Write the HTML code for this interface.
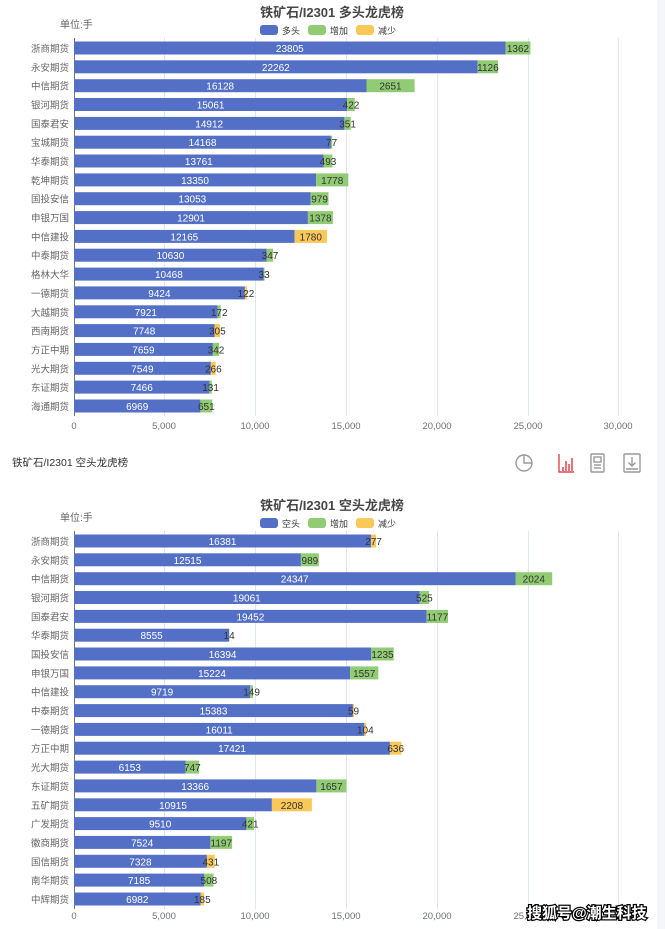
<!DOCTYPE html>
<html><head><meta charset="utf-8"><style>
html,body{margin:0;padding:0;background:#fff;}
svg{display:block;font-family:"Liberation Sans","Noto Sans CJK SC",sans-serif;}
</style></head><body>
<svg width="665" height="929" viewBox="0 0 665 929" xmlns="http://www.w3.org/2000/svg">
<rect x="657" y="0" width="8" height="929" fill="#f4f5f8"/>
<!-- ===== TOP CHART ===== -->
<text x="332" y="17" text-anchor="middle" font-size="13" font-weight="bold" fill="#464646">铁矿石/I2301 多头龙虎榜</text>
<text x="60" y="28" font-size="10" fill="#666">单位:手</text>
<rect x="260" y="25" width="18" height="10" rx="3" fill="#5470c6"/><text x="282" y="34" font-size="9" fill="#333">多头</text>
<rect x="308" y="25" width="18" height="10" rx="3" fill="#91cc75"/><text x="330" y="34" font-size="9" fill="#333">增加</text>
<rect x="356" y="25" width="18" height="10" rx="3" fill="#fac858"/><text x="378" y="34" font-size="9" fill="#333">减少</text>
<g stroke="#e0e6f1" stroke-width="1">
<line x1="164.5" y1="38" x2="164.5" y2="416"/><line x1="255.5" y1="38" x2="255.5" y2="416"/><line x1="346.5" y1="38" x2="346.5" y2="416"/><line x1="437.5" y1="38" x2="437.5" y2="416"/><line x1="528.5" y1="38" x2="528.5" y2="416"/><line x1="618.5" y1="38" x2="618.5" y2="416"/>
</g>
<line x1="74.5" y1="38" x2="74.5" y2="416" stroke="#6e7079"/>
<g font-size="9.5" fill="#6e7079" text-anchor="middle">
<text x="74" y="429">0</text><text x="164" y="429">5,000</text><text x="255" y="429">10,000</text><text x="346" y="429">15,000</text><text x="437" y="429">20,000</text><text x="528" y="429">25,000</text><text x="618" y="429">30,000</text>
</g>
<g font-size="9.5" fill="#666" text-anchor="end">
<text x="69" y="52">浙商期货</text><text x="69" y="70.8">永安期货</text><text x="69" y="89.7">中信期货</text><text x="69" y="108.5">银河期货</text><text x="69" y="127.4">国泰君安</text><text x="69" y="146.2">宝城期货</text><text x="69" y="165">华泰期货</text><text x="69" y="183.9">乾坤期货</text><text x="69" y="202.7">国投安信</text><text x="69" y="221.6">申银万国</text><text x="69" y="240.4">中信建投</text><text x="69" y="259.2">中泰期货</text><text x="69" y="278.1">格林大华</text><text x="69" y="296.9">一德期货</text><text x="69" y="315.8">大越期货</text><text x="69" y="334.6">西南期货</text><text x="69" y="353.4">方正中期</text><text x="69" y="372.3">光大期货</text><text x="69" y="391.1">东证期货</text><text x="69" y="410">海通期货</text>
</g>
<g fill="#5470c6">
<rect x="74" y="41.5" width="431.7" height="13"/><rect x="74" y="60.3" width="403.7" height="13"/><rect x="74" y="79.2" width="292.5" height="13"/><rect x="74" y="98" width="273.1" height="13"/><rect x="74" y="116.9" width="270.4" height="13"/><rect x="74" y="135.7" width="256.9" height="13"/><rect x="74" y="154.5" width="249.5" height="13"/><rect x="74" y="173.4" width="242.1" height="13"/><rect x="74" y="192.2" width="236.7" height="13"/><rect x="74" y="211.1" width="233.9" height="13"/><rect x="74" y="229.9" width="220.6" height="13"/><rect x="74" y="248.7" width="192.8" height="13"/><rect x="74" y="267.6" width="189.8" height="13"/><rect x="74" y="286.4" width="170.9" height="13"/><rect x="74" y="305.3" width="143.6" height="13"/><rect x="74" y="324.1" width="140.5" height="13"/><rect x="74" y="342.9" width="138.9" height="13"/><rect x="74" y="361.8" width="136.9" height="13"/><rect x="74" y="380.6" width="135.4" height="13"/><rect x="74" y="399.5" width="126.4" height="13"/>
</g>
<g>
<rect x="505.7" y="41.5" width="24.7" height="13" fill="#91cc75"/><rect x="477.7" y="60.3" width="20.4" height="13" fill="#91cc75"/><rect x="366.5" y="79.2" width="48.1" height="13" fill="#91cc75"/><rect x="347.1" y="98" width="7.7" height="13" fill="#91cc75"/><rect x="344.4" y="116.9" width="6.4" height="13" fill="#91cc75"/><rect x="330.9" y="135.7" width="1.4" height="13" fill="#91cc75"/><rect x="323.5" y="154.5" width="8.9" height="13" fill="#91cc75"/><rect x="316.1" y="173.4" width="32.2" height="13" fill="#91cc75"/><rect x="310.7" y="192.2" width="17.8" height="13" fill="#91cc75"/><rect x="307.9" y="211.1" width="25" height="13" fill="#91cc75"/><rect x="294.6" y="229.9" width="32.3" height="13" fill="#fac858"/><rect x="266.8" y="248.7" width="6.3" height="13" fill="#91cc75"/><rect x="263.8" y="267.6" width="0.8" height="13" fill="#91cc75"/><rect x="244.9" y="286.4" width="2.2" height="13" fill="#fac858"/><rect x="217.6" y="305.3" width="3.1" height="13" fill="#91cc75"/><rect x="214.5" y="324.1" width="5.5" height="13" fill="#fac858"/><rect x="212.9" y="342.9" width="6.2" height="13" fill="#91cc75"/><rect x="210.9" y="361.8" width="4.8" height="13" fill="#fac858"/><rect x="209.4" y="380.6" width="2.4" height="13" fill="#91cc75"/><rect x="200.4" y="399.5" width="11.8" height="13" fill="#91cc75"/>
</g>
<g font-size="10" fill="#fff" text-anchor="middle">
<text x="289.8" y="52">23805</text><text x="275.8" y="70.8">22262</text><text x="220.2" y="89.7">16128</text><text x="210.6" y="108.5">15061</text><text x="209.2" y="127.4">14912</text><text x="202.5" y="146.2">14168</text><text x="198.8" y="165">13761</text><text x="195" y="183.9">13350</text><text x="192.3" y="202.7">13053</text><text x="191" y="221.6">12901</text><text x="184.3" y="240.4">12165</text><text x="170.4" y="259.2">10630</text><text x="168.9" y="278.1">10468</text><text x="159.4" y="296.9">9424</text><text x="145.8" y="315.8">7921</text><text x="144.2" y="334.6">7748</text><text x="143.4" y="353.4">7659</text><text x="142.4" y="372.3">7549</text><text x="141.7" y="391.1">7466</text><text x="137.2" y="410">6969</text>
</g>
<g font-size="10" fill="#333" text-anchor="middle">
<text x="518" y="52">1362</text><text x="487.9" y="70.8">1126</text><text x="390.5" y="89.7">2651</text><text x="351" y="108.5">422</text><text x="347.6" y="127.4">351</text><text x="331.6" y="146.2">77</text><text x="328" y="165">493</text><text x="332.2" y="183.9">1778</text><text x="319.6" y="202.7">979</text><text x="320.4" y="221.6">1378</text><text x="310.8" y="240.4">1780</text><text x="270" y="259.2">347</text><text x="264.1" y="278.1">33</text><text x="246" y="296.9">122</text><text x="219.2" y="315.8">172</text><text x="217.3" y="334.6">305</text><text x="216" y="353.4">342</text><text x="213.3" y="372.3">266</text><text x="210.6" y="391.1">131</text><text x="206.3" y="410">651</text>
</g>
<!-- ===== MIDDLE BAR ===== -->
<text x="12" y="466" font-size="10.5" fill="#333">铁矿石/I2301 空头龙虎榜</text>
<g fill="none" stroke="#999" stroke-width="1.4">
<circle cx="524" cy="463" r="8"/><path d="M524 455 V463 H532"/>
<path d="M559 454 V472 H574" stroke="#e8434f"/>
<rect x="591" y="454" width="13" height="18" rx="1"/><rect x="594" y="457" width="7" height="5"/><line x1="594" y1="465" x2="601" y2="465"/><line x1="594" y1="468" x2="601" y2="468"/>
<rect x="624" y="454" width="16" height="18" rx="1"/><path d="M632 457 V466 M628.5 462.5 L632 466 L635.5 462.5 M626 469 H638"/>
</g>
<g stroke="#e8434f" stroke-width="1.5"><line x1="563" y1="471" x2="563" y2="467"/><line x1="566" y1="471" x2="566" y2="461"/><line x1="569" y1="471" x2="569" y2="464"/><line x1="572" y1="471" x2="572" y2="458"/></g>
<!-- ===== BOTTOM CHART ===== -->
<text x="332" y="510" text-anchor="middle" font-size="13" font-weight="bold" fill="#464646">铁矿石/I2301 空头龙虎榜</text>
<text x="60" y="521" font-size="10" fill="#666">单位:手</text>
<rect x="260" y="518" width="18" height="10" rx="3" fill="#5470c6"/><text x="282" y="527" font-size="9" fill="#333">空头</text>
<rect x="308" y="518" width="18" height="10" rx="3" fill="#91cc75"/><text x="330" y="527" font-size="9" fill="#333">增加</text>
<rect x="356" y="518" width="18" height="10" rx="3" fill="#fac858"/><text x="378" y="527" font-size="9" fill="#333">减少</text>
<g stroke="#e0e6f1" stroke-width="1">
<line x1="164.5" y1="531" x2="164.5" y2="909"/><line x1="255.5" y1="531" x2="255.5" y2="909"/><line x1="346.5" y1="531" x2="346.5" y2="909"/><line x1="437.5" y1="531" x2="437.5" y2="909"/><line x1="528.5" y1="531" x2="528.5" y2="909"/><line x1="618.5" y1="531" x2="618.5" y2="909"/>
</g>
<line x1="74.5" y1="531" x2="74.5" y2="909" stroke="#6e7079"/>
<g font-size="9.5" fill="#6e7079" text-anchor="middle">
<text x="74" y="919">0</text><text x="164" y="919">5,000</text><text x="255" y="919">10,000</text><text x="346" y="919">15,000</text><text x="437" y="919">20,000</text><text x="528" y="919">25,000</text><text x="618" y="919">30,000</text>
</g>
<g font-size="9.5" fill="#666" text-anchor="end">
<text x="69" y="545">浙商期货</text><text x="69" y="563.8">永安期货</text><text x="69" y="582.7">中信期货</text><text x="69" y="601.5">银河期货</text><text x="69" y="620.4">国泰君安</text><text x="69" y="639.2">华泰期货</text><text x="69" y="658">国投安信</text><text x="69" y="676.9">申银万国</text><text x="69" y="695.7">中信建投</text><text x="69" y="714.6">中泰期货</text><text x="69" y="733.4">一德期货</text><text x="69" y="752.2">方正中期</text><text x="69" y="771.1">光大期货</text><text x="69" y="789.9">东证期货</text><text x="69" y="808.8">五矿期货</text><text x="69" y="827.6">广发期货</text><text x="69" y="846.4">徽商期货</text><text x="69" y="865.3">国信期货</text><text x="69" y="884.1">南华期货</text><text x="69" y="903">中辉期货</text>
</g>
<g fill="#5470c6">
<rect x="74" y="534.5" width="297" height="13"/><rect x="74" y="553.3" width="226.9" height="13"/><rect x="74" y="572.2" width="441.5" height="13"/><rect x="74" y="591" width="345.6" height="13"/><rect x="74" y="609.9" width="352.7" height="13"/><rect x="74" y="628.7" width="155.1" height="13"/><rect x="74" y="647.5" width="297.3" height="13"/><rect x="74" y="666.4" width="276.1" height="13"/><rect x="74" y="685.2" width="176.2" height="13"/><rect x="74" y="704.1" width="278.9" height="13"/><rect x="74" y="722.9" width="290.3" height="13"/><rect x="74" y="741.7" width="315.9" height="13"/><rect x="74" y="760.6" width="111.6" height="13"/><rect x="74" y="779.4" width="242.4" height="13"/><rect x="74" y="798.3" width="197.9" height="13"/><rect x="74" y="817.1" width="172.4" height="13"/><rect x="74" y="835.9" width="136.4" height="13"/><rect x="74" y="854.8" width="132.9" height="13"/><rect x="74" y="873.6" width="130.3" height="13"/><rect x="74" y="892.5" width="126.6" height="13"/>
</g>
<g>
<rect x="371" y="534.5" width="5" height="13" fill="#fac858"/><rect x="300.9" y="553.3" width="17.9" height="13" fill="#91cc75"/><rect x="515.5" y="572.2" width="36.7" height="13" fill="#91cc75"/><rect x="419.6" y="591" width="9.5" height="13" fill="#91cc75"/><rect x="426.7" y="609.9" width="21.3" height="13" fill="#91cc75"/><rect x="229.1" y="628.7" width="0.4" height="13" fill="#91cc75"/><rect x="371.3" y="647.5" width="22.4" height="13" fill="#91cc75"/><rect x="350.1" y="666.4" width="28.2" height="13" fill="#91cc75"/><rect x="250.2" y="685.2" width="2.7" height="13" fill="#91cc75"/><rect x="352.9" y="704.1" width="1.1" height="13" fill="#fac858"/><rect x="364.3" y="722.9" width="1.9" height="13" fill="#fac858"/><rect x="389.9" y="741.7" width="11.5" height="13" fill="#fac858"/><rect x="185.6" y="760.6" width="13.5" height="13" fill="#91cc75"/><rect x="316.4" y="779.4" width="30" height="13" fill="#91cc75"/><rect x="271.9" y="798.3" width="40" height="13" fill="#fac858"/><rect x="246.4" y="817.1" width="7.6" height="13" fill="#91cc75"/><rect x="210.4" y="835.9" width="21.7" height="13" fill="#91cc75"/><rect x="206.9" y="854.8" width="7.8" height="13" fill="#fac858"/><rect x="204.3" y="873.6" width="9.2" height="13" fill="#91cc75"/><rect x="200.6" y="892.5" width="3.4" height="13" fill="#fac858"/>
</g>
<g font-size="10" fill="#fff" text-anchor="middle">
<text x="222.5" y="545">16381</text><text x="187.5" y="563.8">12515</text><text x="294.7" y="582.7">24347</text><text x="246.8" y="601.5">19061</text><text x="250.4" y="620.4">19452</text><text x="151.6" y="639.2">8555</text><text x="222.6" y="658">16394</text><text x="212" y="676.9">15224</text><text x="162.1" y="695.7">9719</text><text x="213.5" y="714.6">15383</text><text x="219.2" y="733.4">16011</text><text x="232" y="752.2">17421</text><text x="129.8" y="771.1">6153</text><text x="195.2" y="789.9">13366</text><text x="173" y="808.8">10915</text><text x="160.2" y="827.6">9510</text><text x="142.2" y="846.4">7524</text><text x="140.4" y="865.3">7328</text><text x="139.1" y="884.1">7185</text><text x="137.3" y="903">6982</text>
</g>
<g font-size="10" fill="#333" text-anchor="middle">
<text x="373.5" y="545">277</text><text x="309.9" y="563.8">989</text><text x="533.8" y="582.7">2024</text><text x="424.4" y="601.5">525</text><text x="437.4" y="620.4">1177</text><text x="229.2" y="639.2">14</text><text x="382.5" y="658">1235</text><text x="364.2" y="676.9">1557</text><text x="251.6" y="695.7">149</text><text x="353.5" y="714.6">59</text><text x="365.3" y="733.4">104</text><text x="395.7" y="752.2">636</text><text x="192.4" y="771.1">747</text><text x="331.4" y="789.9">1657</text><text x="291.9" y="808.8">2208</text><text x="250.2" y="827.6">421</text><text x="221.3" y="846.4">1197</text><text x="210.8" y="865.3">431</text><text x="208.9" y="884.1">508</text><text x="202.3" y="903">185</text>
</g>
<text x="527" y="918" font-size="15" font-weight="bold" fill="#fff" stroke="#000" stroke-width="2.5" paint-order="stroke">搜狐号@潮生科技</text>
</svg>
</body></html>
